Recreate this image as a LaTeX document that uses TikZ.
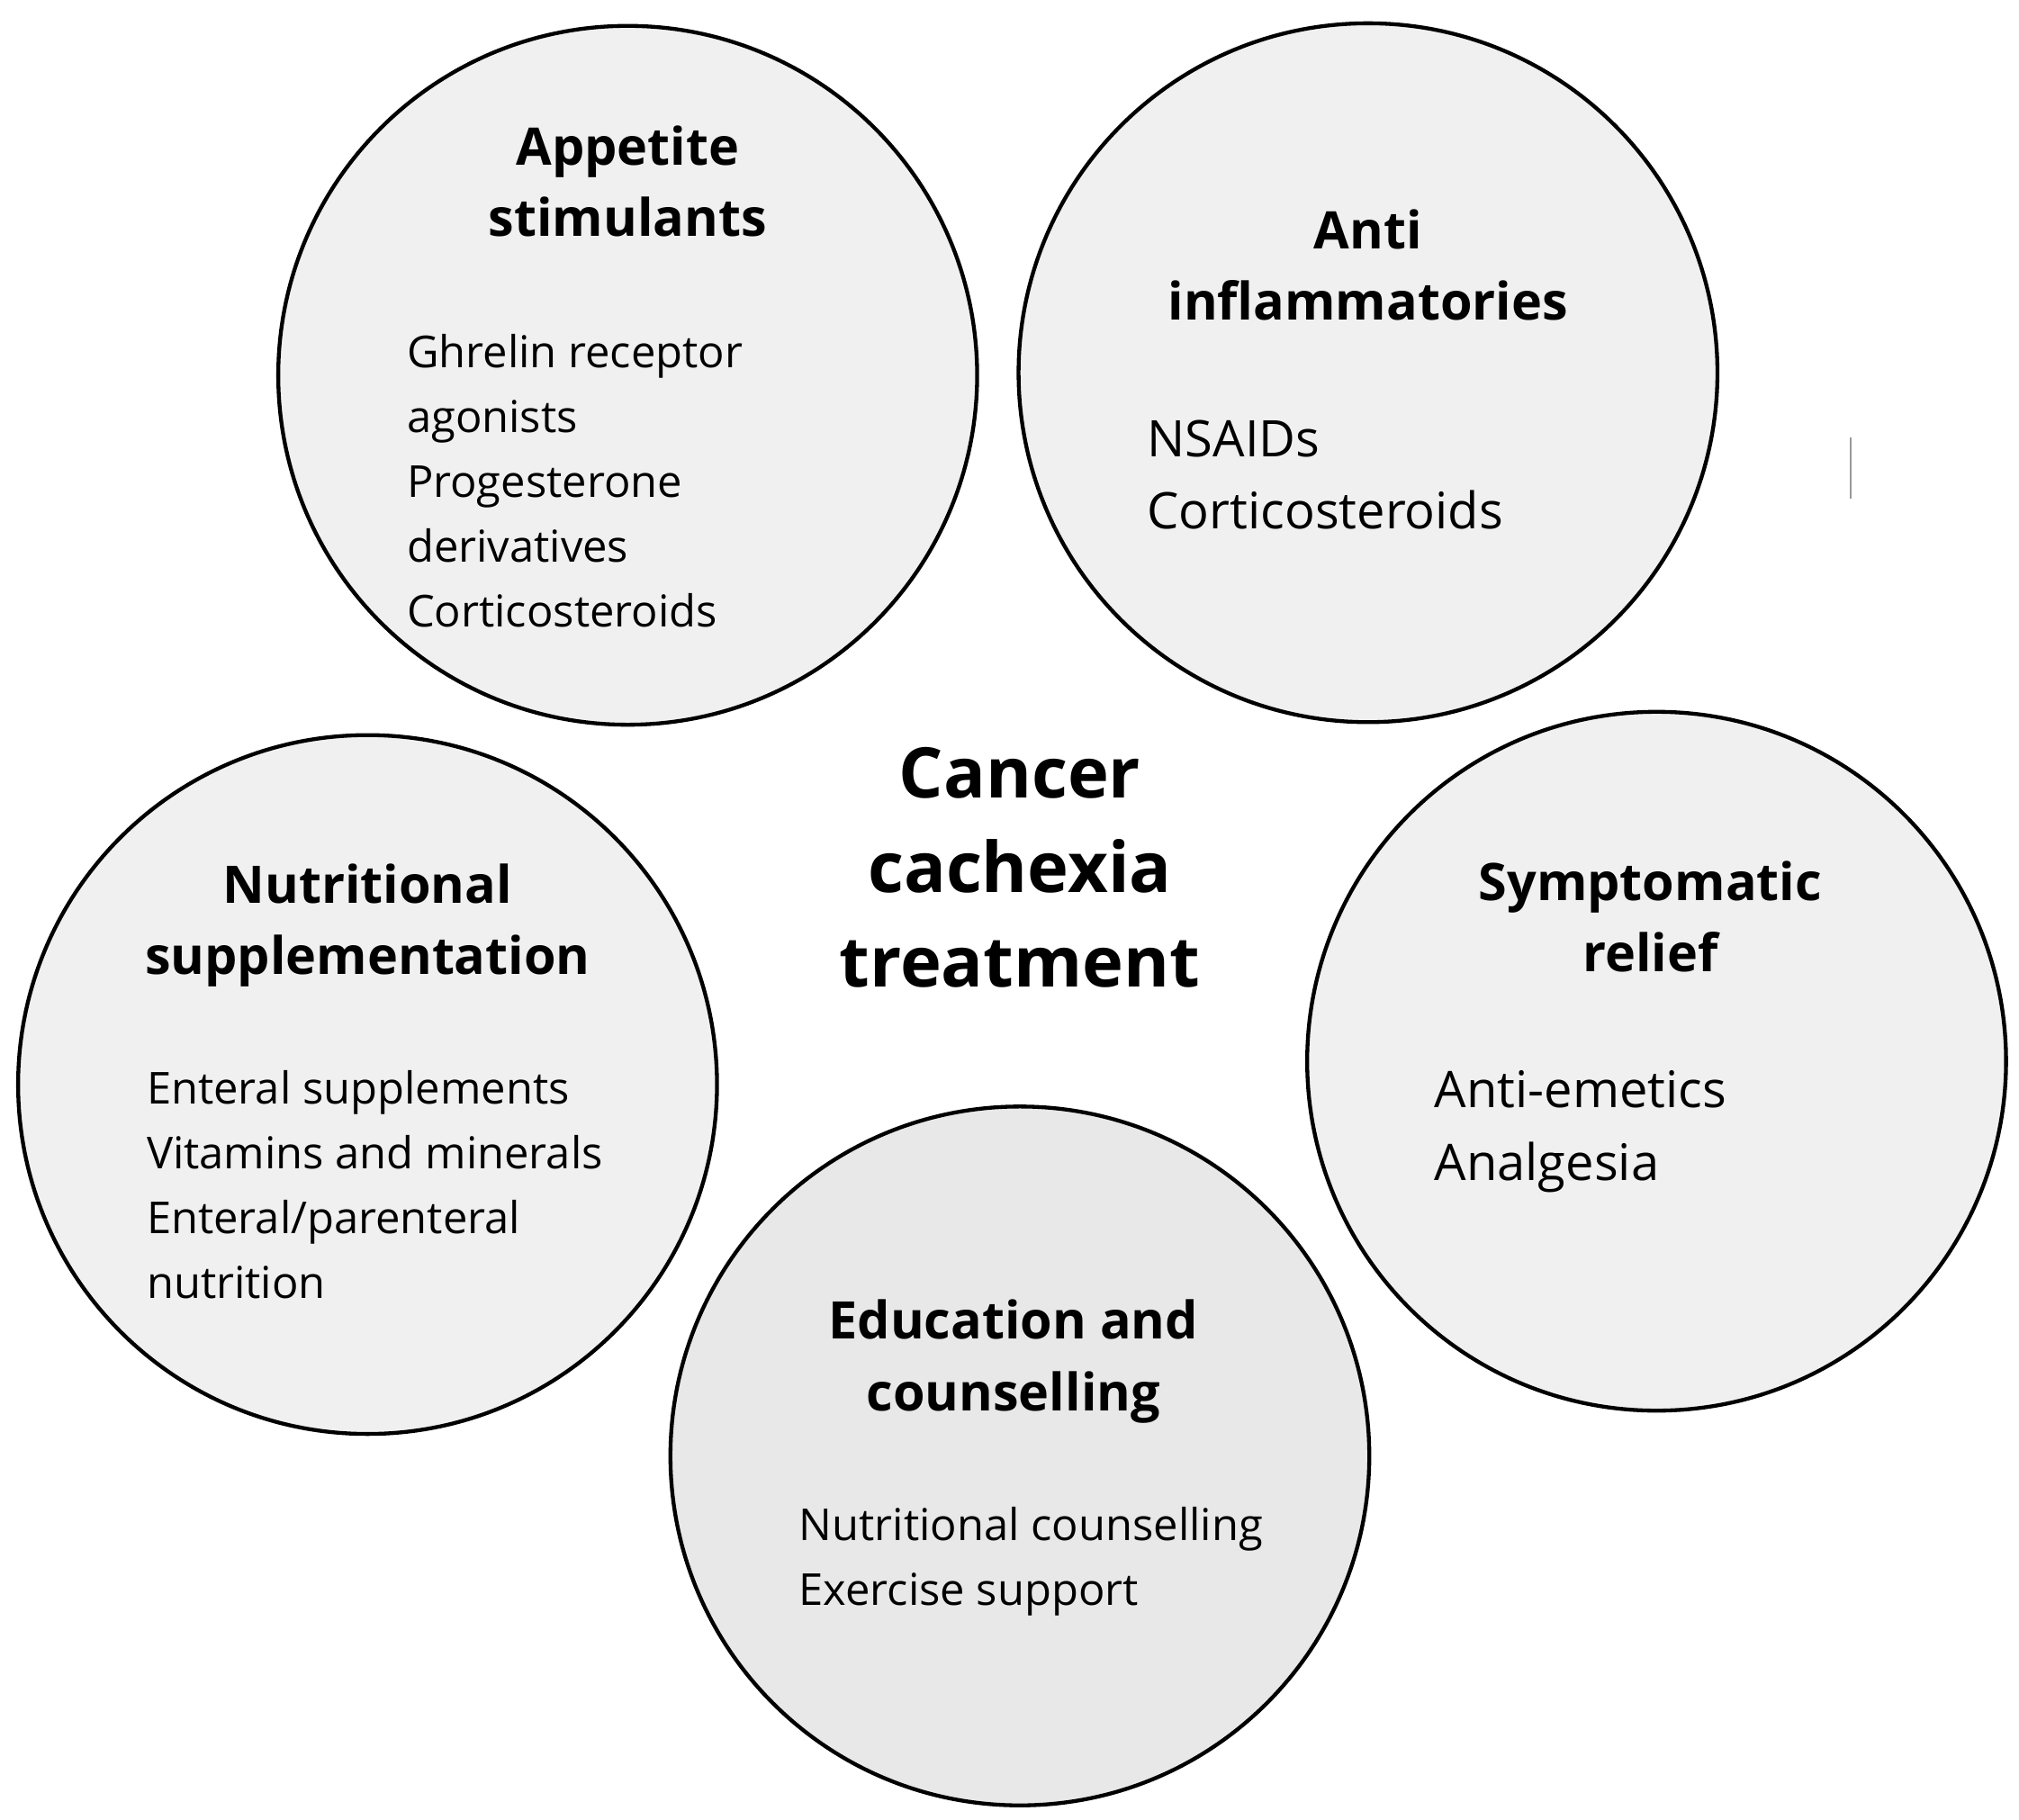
\documentclass[tikz,border=0pt]{standalone}
\usepackage{fontspec}
\setmainfont{Open Sans}
\begin{document}
\begin{tikzpicture}[x=0.5pt,y=-0.5pt,
 circ/.style={circle,draw=black,line width=1.5pt,fill=black!6,minimum size=270pt,inner sep=0pt},
 ttl/.style={align=center,font=\fontsize{20}{27.5}\selectfont\bfseries},
 body/.style={align=left,anchor=north west,inner sep=0pt,font=\fontsize{17}{25}\selectfont},
 bodyb/.style={align=left,anchor=north west,inner sep=0pt,font=\fontsize{19.5}{28}\selectfont}]
\useasboundingbox (0,0) rectangle (1560,1406);
\node[circ] (app) at (485,290) {};
\node[circ] (anti) at (1057,288) {};
\node[circ] (nut) at (284,838) {};
\node[circ] (sym) at (1280,820) {};
\node[circ,fill=black!9] (edu) at (788,1125) {};
\node[ttl] (appt) at (485,140) {Appetite\\stimulants};
\node[ttl] (antit) at (1057,205) {Anti\\inflammatories};
\node[ttl] (nutt) at (284,715) {Nutritional\\supplementation};
\node[ttl] (symt) at (1275,708) {Symptomatic\\relief};
\node[ttl] (edut) at (783,1052) {Education and\\counselling};
\node[align=center,font=\fontsize{27}{36.5}\selectfont\bfseries] (ctr) at (788,670) {Cancer\\cachexia\\treatment};
\node[body] (appb) at (314,258) {Ghrelin receptor\\agonists\\Progesterone\\derivatives\\Corticosteroids};
\node[bodyb] (antib) at (886,324) {NSAIDs\\Corticosteroids};
\node[body] (nutb) at (113,827) {Enteral supplements\\Vitamins and minerals\\Enteral/parenteral\\nutrition};
\node[bodyb] (symb) at (1108,827) {Anti-emetics\\Analgesia};
\node[body] (edub) at (617,1164) {Nutritional counselling\\Exercise support};
\coordinate (l1) at (1430,338); \coordinate (l2) at (1430,385);
\draw[black!40,line width=0.6pt] (l1) -- (l2);
\end{tikzpicture}
\end{document}
